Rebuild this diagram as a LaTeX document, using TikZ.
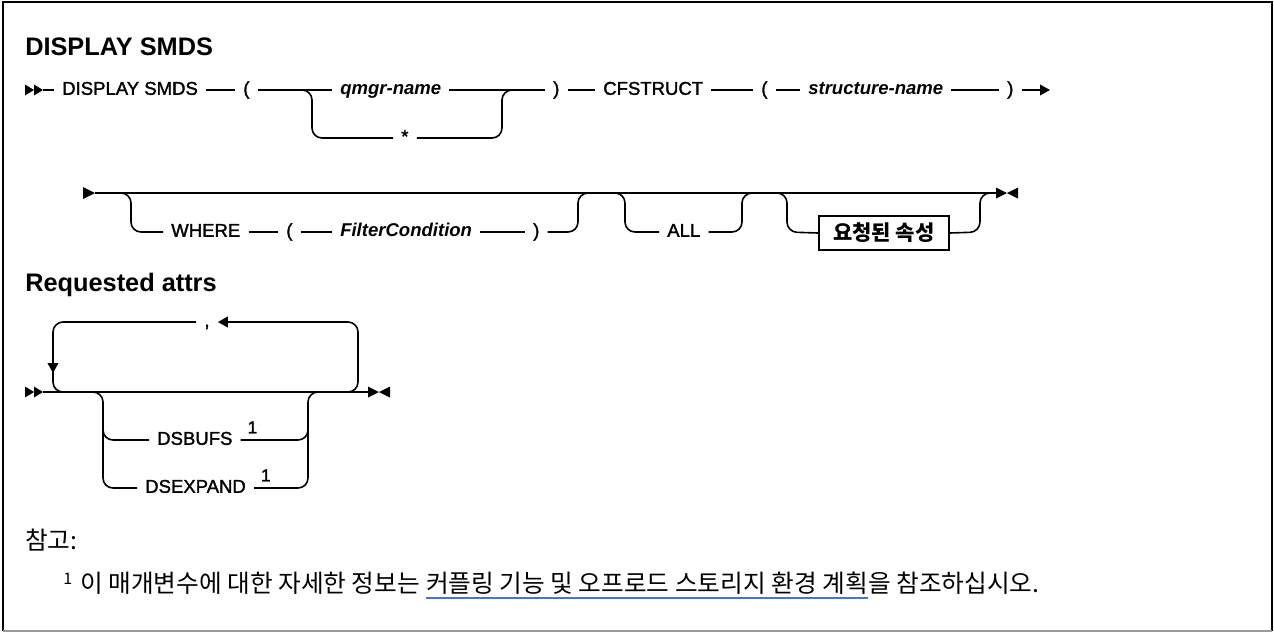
\documentclass[tikz,border=0pt]{standalone}
\usepackage{fontspec}
\setmainfont{Liberation Sans}
\newfontfamily\kwfam{Liberation Sans}[FakeBold=1.6]
\newfontfamily\kr{Noto Sans CJK KR}
\usetikzlibrary{arrows.meta}
\definecolor{linkblue}{HTML}{4A74C9}
\definecolor{framegray}{HTML}{9A9A9A}
\newcommand{\dfont}{\fontsize{13.9pt}{16pt}\selectfont}
\newcommand{\tfont}{\fontsize{19pt}{22pt}\selectfont\bfseries}
\newcommand{\nfont}{\fontsize{18.5pt}{22pt}\selectfont\kr}
\begin{document}
\begin{tikzpicture}[x=0.75pt,y=-0.75pt,
  conn/.style={line width=1.2pt},
  rc/.style={conn, rounded corners=7.5pt},
  tok/.style={inner xsep=6pt, inner ysep=0pt, text height=0.72em, text depth=0pt, anchor=west, font=\dfont\kwfam},
  var/.style={tok, font=\dfont\bfseries\itshape},
  supnum/.style={inner sep=0pt, anchor=base west, font=\fontsize{13pt}{14pt}\selectfont\kwfam},
  tipr/.style={-{Triangle[length=7.5pt,width=8pt]}},
  ttl/.style={anchor=west, inner sep=0pt, font=\tfont},
]
\useasboundingbox (0,0) rectangle (1274,633);
% frame
\draw[line width=1.5pt] (3,631) -- (3,2) -- (1272,2) -- (1272,631);
\draw[framegray, line width=1pt] (3,631) -- (1272,631);

% ---------- title
\node[ttl] (title) at (25,47) {DISPLAY SMDS};

% ---------- row 1
\fill (25,84.5) -- (34,90) -- (25,95.5) -- cycle;
\fill (34,84.5) -- (43,90) -- (34,95.5) -- cycle;
\coordinate (r1s0) at (43,90);
\node[tok] (r1a) at (54,90) {DISPLAY SMDS};
\node[tok] (r1p1) at (235,90) {(};
\node[var] (r1q) at (332,90) {qmgr-name};
\node[tok] (r1s) at (393,138) {*};
\node[tok] (r1p2) at (545,90) {)};
\node[tok] (r1c) at (595,90) {CFSTRUCT};
\node[tok] (r1p3) at (753,90) {(};
\node[var] (r1n) at (800,90) {structure-name};
\node[tok] (r1p4) at (999,90) {)};
\coordinate (r1end) at (1050,90);
\coordinate (r1f) at (298,90);
\coordinate (r1j) at (516,90);
\draw[conn] (r1s0) -- (r1a.west);
\draw[conn] (r1a.east) -- (r1p1.west);
\draw[conn] (r1p1.east) -- (r1q.west);
\draw[rc] (r1f) -- (312,90) -- (312,138) -- (r1s.west);
\draw[rc] (r1s.east) -- (502,138) -- (502,90) -- (r1j);
\draw[conn] (r1q.east) -- (r1p2.west);
\draw[conn] (r1p2.east) -- (r1c.west);
\draw[conn] (r1c.east) -- (r1p3.west);
\draw[conn] (r1p3.east) -- (r1n.west);
\draw[conn] (r1n.east) -- (r1p4.west);
\draw[conn, tipr] (r1p4.east) -- (r1end);

% ---------- row 2
\fill (83,187) -- (95,193) -- (83,199) -- cycle;
\coordinate (r2s0) at (95,193);
\coordinate (r2e) at (996,193);
\fill (996,187.5) -- (1007,193) -- (996,198.5) -- cycle;
\fill (1018,187.5) -- (1007,193) -- (1018,198.5) -- cycle;
\draw[conn] (r2s0) -- (r2e);
\node[tok] (r2w) at (163,232) {WHERE};
\node[tok] (r2p1) at (278,232) {(};
\node[var] (r2fc) at (332,232) {FilterCondition};
\node[tok] (r2p2) at (525,232) {)};
\node[tok] (r2all) at (659,232) {ALL};
\node[draw, line width=1.2pt, anchor=west, minimum width=97.5pt, minimum height=25.5pt, inner sep=0pt,
      font=\fontsize{15.75pt}{18pt}\selectfont\kr\bfseries] (r2box) at (818,233) {요청된 속성};
\coordinate (r2f1) at (116,193);
\coordinate (r2j1) at (592,193);
\coordinate (r2f2) at (610,193);
\coordinate (r2j2) at (756,193);
\coordinate (r2f3) at (772,193);
\coordinate (r2j3) at (994,193);
\draw[rc] (r2f1) -- (131,193) -- (131,232) -- (r2w.west);
\draw[conn] (r2w.east) -- (r2p1.west);
\draw[conn] (r2p1.east) -- (r2fc.west);
\draw[conn] (r2fc.east) -- (r2p2.west);
\draw[rc] (r2p2.east) -- (578,232) -- (578,193) -- (r2j1);
\draw[rc] (r2f2) -- (625,193) -- (625,232) -- (r2all.west);
\draw[rc] (r2all.east) -- (742,232) -- (742,193) -- (r2j2);
\draw[rc] (r2f3) -- (787,193) -- (787,232) -- (r2box.west);
\draw[rc] (r2box.east) -- (980,232) -- (980,193) -- (r2j3);

% ---------- Requested attrs
\node[ttl] (req) at (25,285) {Requested attrs};

% ---------- row 3
\fill (25,386.5) -- (34,392) -- (25,397.5) -- cycle;
\fill (34,386.5) -- (43,392) -- (34,397.5) -- cycle;
\coordinate (r3s0) at (43,392);
\coordinate (r3e) at (368,392);
\fill (368,386.5) -- (379,392) -- (368,397.5) -- cycle;
\fill (390,386.5) -- (379,392) -- (390,397.5) -- cycle;
\draw[conn] (r3s0) -- (r3e);
% repeat loop
\node[tok, anchor=center] (r3c) at (207,322) {,};
\coordinate (r3l1) at (335,392);
\coordinate (r3l2) at (78,392);
\coordinate (r3lm) at (53,362);
\draw[rc, tipr] (r3l1) -- (358,392) -- (358,322) -- (r3c.east);
\draw[rc, tipr] (r3c.west) -- (53,322) -- (53,373);
\draw[rc] (r3lm) -- (53,392) -- (r3l2);
% choices
\node[tok] (r3b) at (149,440) {DSBUFS};
\node[tok] (r3x) at (137,488) {DSEXPAND};
\node[supnum] (r3b1) at ([xshift=5pt,yshift=5pt]r3b.east) {1};
\node[supnum] (r3x1) at ([xshift=5pt,yshift=5pt]r3x.east) {1};
\coordinate (r3f) at (88,392);
\coordinate (r3j) at (323,392);
\coordinate (r3lv) at (103,425);
\coordinate (r3rv) at (308,425);
\draw[rc] (r3f) -- (103,392) -- (103,440) -- (r3b.west);
\draw[rc] (r3lv) -- (103,488) -- (r3x.west);
\draw[rc] (r3b.east) -- (308,440) -- (308,392) -- (r3j);
\draw[rc] (r3x.east) -- (308,488) -- (r3rv);

% ---------- notes
\node[anchor=west, inner sep=0pt, font=\nfont] (note) at (25,540) {참고:};
\node[anchor=base west, inner sep=0pt, font=\fontsize{12pt}{14pt}\selectfont\kr] (fn1) at (63,584) {1};
\node[anchor=base west, inner sep=0pt, font=\nfont] (fpre) at (80,592) {이 매개변수에 대한 자세한 정보는\ \mbox{}};
\node[anchor=base west, inner sep=0pt, font=\nfont] (flink) at (fpre.base east) {커플링 기능 및 오프로드 스토리지 환경 계획};
\node[anchor=base west, inner sep=0pt, font=\nfont] (fpost) at (flink.base east) {을 참조하십시오.};
\draw[linkblue, line width=0.9pt] ([yshift=-4.5pt]flink.base west) -- ([yshift=-4.5pt]flink.base east);
\end{tikzpicture}
\end{document}
